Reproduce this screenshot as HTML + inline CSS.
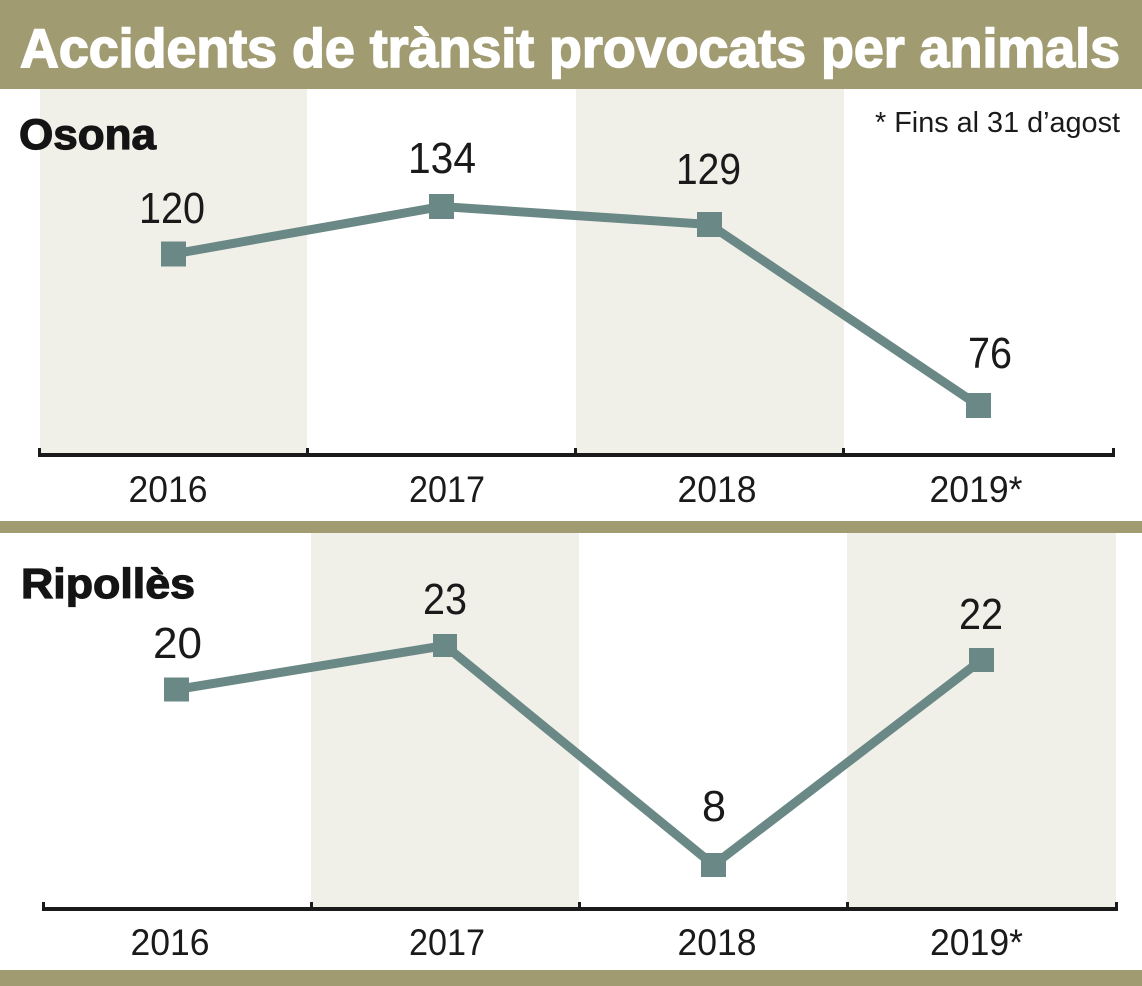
<!DOCTYPE html>
<html>
<head>
<meta charset="utf-8">
<style>
  html,body{margin:0;padding:0;background:#fff;}
  svg{display:block;}
  .t{font-family:"Liberation Sans",sans-serif;}
</style>
</head>
<body>
<svg width="1142" height="986" viewBox="0 0 1142 986" xmlns="http://www.w3.org/2000/svg">
  <rect x="0" y="0" width="1142" height="986" fill="#ffffff"/>
  <!-- Title bar -->
  <rect x="0" y="0" width="1142" height="89" fill="#A19B72"/>
  <text class="t" x="20" y="67" font-size="55" font-weight="bold" fill="#ffffff" stroke="#ffffff" stroke-width="1.6" textLength="1100" lengthAdjust="spacingAndGlyphs">Accidents de trànsit provocats per animals</text>

  <!-- Osona panel -->
  <rect x="40" y="89" width="267" height="364" fill="#F0EFE8"/>
  <rect x="576" y="89" width="268" height="364" fill="#F0EFE8"/>
  <text class="t" x="19" y="149" font-size="43" font-weight="bold" fill="#141414" stroke="#141414" stroke-width="1.2" textLength="137" lengthAdjust="spacingAndGlyphs">Osona</text>
  <text class="t" x="875" y="132" font-size="29" fill="#1a1a1a" textLength="245" lengthAdjust="spacingAndGlyphs">* Fins al 31 d’agost</text>

  <!-- Osona axis -->
  <rect x="38" y="453" width="1077" height="4" fill="#1a1a1a"/>
  <rect x="38" y="448" width="3" height="8" fill="#1a1a1a"/>
  <rect x="306" y="448" width="3" height="8" fill="#1a1a1a"/>
  <rect x="574" y="448" width="3" height="8" fill="#1a1a1a"/>
  <rect x="842" y="448" width="3" height="8" fill="#1a1a1a"/>
  <rect x="1112" y="448" width="3" height="8" fill="#1a1a1a"/>
  <g class="t" font-size="37" fill="#1a1a1a" text-anchor="middle">
    <text x="168" y="502" textLength="79" lengthAdjust="spacingAndGlyphs">2016</text>
    <text x="447" y="502" textLength="76" lengthAdjust="spacingAndGlyphs">2017</text>
    <text x="717" y="502" textLength="79" lengthAdjust="spacingAndGlyphs">2018</text>
    <text x="976" y="502" textLength="93" lengthAdjust="spacingAndGlyphs">2019*</text>
  </g>

  <!-- Osona series -->
  <polyline points="173.5,254 441.5,206.5 709.5,224.5 978.5,405.5" fill="none" stroke="#6A8885" stroke-width="9" stroke-linejoin="miter"/>
  <g fill="#6A8885">
    <rect x="161" y="241.5" width="25" height="25"/>
    <rect x="429" y="194" width="25" height="25"/>
    <rect x="697" y="212" width="25" height="25"/>
    <rect x="966" y="393" width="25" height="25"/>
  </g>
  <g class="t" font-size="44" fill="#1a1a1a" text-anchor="middle">
    <text x="172" y="223" textLength="66" lengthAdjust="spacingAndGlyphs">120</text>
    <text x="442" y="173" textLength="68" lengthAdjust="spacingAndGlyphs">134</text>
    <text x="708.5" y="184" textLength="65" lengthAdjust="spacingAndGlyphs">129</text>
    <text x="990" y="368" textLength="44" lengthAdjust="spacingAndGlyphs">76</text>
  </g>

  <!-- Separator -->
  <rect x="0" y="521" width="1142" height="12" fill="#A19B72"/>

  <!-- Ripollès panel -->
  <rect x="311" y="533" width="268" height="375" fill="#F0EFE8"/>
  <rect x="847" y="533" width="269" height="375" fill="#F0EFE8"/>
  <text class="t" x="21" y="598" font-size="42" font-weight="bold" fill="#141414" stroke="#141414" stroke-width="1.2" textLength="174" lengthAdjust="spacingAndGlyphs">Ripollès</text>

  <!-- Ripollès axis -->
  <rect x="42" y="907" width="1076" height="4" fill="#1a1a1a"/>
  <rect x="42" y="902" width="3" height="8" fill="#1a1a1a"/>
  <rect x="310" y="902" width="3" height="8" fill="#1a1a1a"/>
  <rect x="578" y="902" width="3" height="8" fill="#1a1a1a"/>
  <rect x="846" y="902" width="3" height="8" fill="#1a1a1a"/>
  <rect x="1115" y="902" width="3" height="8" fill="#1a1a1a"/>
  <g class="t" font-size="37" fill="#1a1a1a" text-anchor="middle">
    <text x="170" y="955" textLength="79" lengthAdjust="spacingAndGlyphs">2016</text>
    <text x="447" y="955" textLength="76" lengthAdjust="spacingAndGlyphs">2017</text>
    <text x="717" y="955" textLength="79" lengthAdjust="spacingAndGlyphs">2018</text>
    <text x="976.5" y="955" textLength="93" lengthAdjust="spacingAndGlyphs">2019*</text>
  </g>

  <!-- Ripollès series -->
  <polyline points="176.5,689.5 445,645.5 713.5,865 981.5,660" fill="none" stroke="#6A8885" stroke-width="9" stroke-linejoin="miter"/>
  <g fill="#6A8885">
    <rect x="164" y="677.5" width="25" height="24"/>
    <rect x="433" y="634" width="24" height="23"/>
    <rect x="701" y="853" width="25" height="24"/>
    <rect x="969" y="648" width="25" height="24"/>
  </g>
  <g class="t" font-size="44" fill="#1a1a1a" text-anchor="middle">
    <text x="177.5" y="658" textLength="49" lengthAdjust="spacingAndGlyphs">20</text>
    <text x="445" y="614" textLength="44" lengthAdjust="spacingAndGlyphs">23</text>
    <text x="714" y="821" textLength="24" lengthAdjust="spacingAndGlyphs">8</text>
    <text x="981" y="629" textLength="44" lengthAdjust="spacingAndGlyphs">22</text>
  </g>

  <!-- Bottom bar -->
  <rect x="0" y="970" width="1142" height="16" fill="#A19B72"/>
</svg>
</body>
</html>
